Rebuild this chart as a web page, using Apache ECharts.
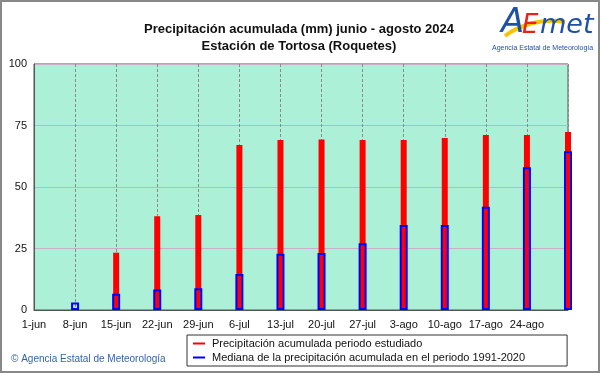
<!DOCTYPE html>
<html><head><meta charset="utf-8">
<script src="https://cdn.jsdelivr.net/npm/echarts@6/dist/echarts.min.js"></script>
<style>html,body{margin:0;padding:0;background:#fff}#c{width:601px;height:374px}</style>
</head><body><div id="c"></div>
<script>
const categories = ['1-jun','8-jun','15-jun','22-jun','29-jun','6-jul','13-jul','20-jul','27-jul','3-ago','10-ago','17-ago','24-ago','31-ago'];
const observed = [null, 0, 23.3, 38.1, 38.6, 67.1, 69.1, 69.3, 69.1, 69.1, 69.9, 71.1, 71.1, 72.4];
const median = [null, 3.0, 6.6, 8.3, 8.8, 14.6, 22.9, 23.2, 27.1, 34.6, 34.6, 42.0, 58.0, 64.5];
const yTicks = [0, 25, 50, 75, 100];
const titleLines = ['Precipitación acumulada (mm) junio - agosto 2024', 'Estación de Tortosa (Roquetes)'];
const legendNames = ['Precipitación acumulada periodo estudiado', 'Mediana de la precipitación acumulada en el periodo 1991-2020'];

const chart = echarts.init(document.getElementById('c'), null, {renderer: 'canvas'});
const font = '"Liberation Sans", Arial, sans-serif';
const xAxisBase = {
  type: 'category', data: categories, boundaryGap: false,
  axisLine: {show: true, lineStyle: {color: '#555', width: 1}},
  axisTick: {show: false},
  axisLabel: {show: true, interval: 0, color: '#111', fontSize: 11, fontFamily: font, margin: 9,
    formatter: (v, i) => i === categories.length - 1 ? '' : v},
  splitLine: {show: true, lineStyle: {color: '#8a8a8a', type: [3, 2], width: 1}}
};
chart.setOption({
  animation: false,
  backgroundColor: '#fff',
  title: {
    text: titleLines.join('\n'), left: 294, top: 16, textAlign: 'center',
    textStyle: {fontFamily: font, fontSize: 13, fontWeight: 'bold', color: '#111', lineHeight: 17}
  },
  grid: {left: 34, right: 33, top: 64, bottom: 64, show: true, backgroundColor: '#acf1d7', borderColor: '#555', borderWidth: 1},
  xAxis: [xAxisBase, Object.assign({}, xAxisBase, {show: false})],
  yAxis: {
    type: 'value', min: yTicks[0], max: yTicks[yTicks.length - 1], interval: 25,
    axisLine: {show: true, lineStyle: {color: '#555'}}, axisTick: {show: false},
    axisLabel: {color: '#111', fontSize: 11, fontFamily: font, margin: 7},
    splitLine: {show: true, lineStyle: {color: '#c9aecb', width: 1}}
  },
  legend: {
    orient: 'vertical', left: 187, top: 335,
    data: [
      {name: legendNames[0], icon: 'rect', itemStyle: {color: '#ff0000', borderWidth: 0}},
      {name: legendNames[1], icon: 'rect', itemStyle: {color: '#0000ff', borderWidth: 0}}
    ],
    itemWidth: 12, itemHeight: 2, itemGap: 3,
    padding: [3, 42, 3, 6],
    borderColor: '#333', borderWidth: 1, backgroundColor: '#fff',
    textStyle: {fontFamily: font, fontSize: 11, color: '#111', padding: [0, 0, 0, 2]}
  },
  series: [
    {name: legendNames[0], type: 'bar', xAxisIndex: 0, data: observed, barWidth: 6,
      itemStyle: {color: '#ff0000'}, z: 2},
    {name: legendNames[1], type: 'bar', xAxisIndex: 1, data: median, barWidth: 8,
      itemStyle: {color: 'rgba(0,0,0,0)', borderColor: '#0000ff', borderWidth: 2}, z: 3}
  ],
  graphic: [
    {type: 'rect', shape: {x: 1, y: 1, width: 598, height: 371}, style: {fill: 'none', stroke: '#888', lineWidth: 2}, z: 100},
    {type: 'text', left: 11, top: 354, style: {text: '© Agencia Estatal de Meteorología', fill: '#3563ad', font: '10px ' + font}},
    {type: 'bezierCurve', shape: {x1: 505, y1: 36, cpx1: 520, cpy1: 24, cpx2: 545, cpy2: 18, x2: 565, y2: 22}, style: {stroke: '#f5c400', lineWidth: 4, fill: 'none'}},
    {type: 'text', x: 501, y: 6, style: {text: 'A', fill: '#1f50a8', font: 'italic 34px "DejaVu Sans", sans-serif'}},
    {type: 'text', x: 522, y: 13, style: {text: 'E', fill: '#e8231a', font: 'italic 26px "DejaVu Sans", sans-serif'}},
    {type: 'text', x: 540, y: 12, style: {text: 'met', fill: '#1f50a8', font: 'italic 27px "DejaVu Sans", sans-serif'}},
    {type: 'text', x: 492, y: 45, style: {text: 'Agencia Estatal de Meteorología', fill: '#1f50a8', font: '7px ' + font}}
  ]
});
</script></body></html>
